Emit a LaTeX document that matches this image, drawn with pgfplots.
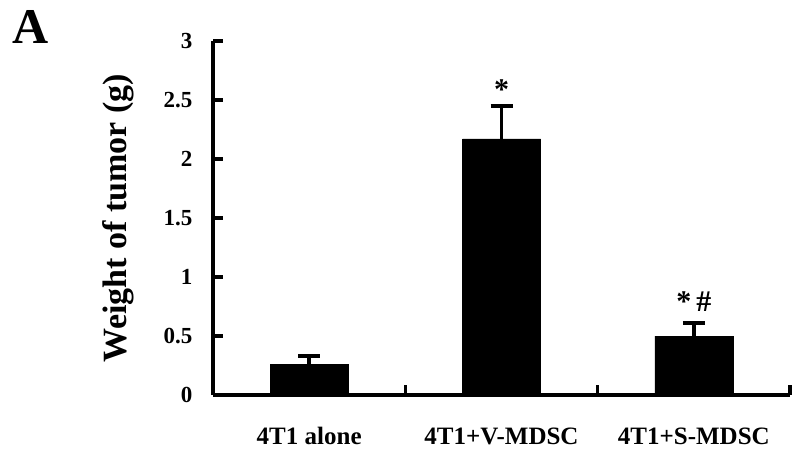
\documentclass[border=0pt]{standalone}
\usepackage{fontspec}
\setmainfont{Liberation Serif}
\usepackage{pgfplots}
\pgfplotsset{compat=1.18}
\begin{document}
\begin{tikzpicture}
\path[use as bounding box] (0pt,0pt) rectangle (800pt,455pt);
\node[font=\fontsize{50}{50}\selectfont\bfseries] at (31pt,428pt) {A};
\begin{axis}[
at={(213pt,60pt)}, anchor=south west,
scale only axis, width=577pt, height=354pt,
xmin=-0.5, xmax=2.5, ymin=0, ymax=3,
axis x line*=bottom, axis y line*=left,
axis line style={line width=3.5pt, black},
clip=false,
xtick={0.5,1.5,2.5}, xticklabels={},
extra x ticks={0,1,2},
extra x tick labels={4T1 alone,4T1+V-MDSC,4T1+S-MDSC},
extra x tick style={major tick length=0pt},
ytick={0,0.5,1,1.5,2,2.5,3},
tick align=inside, major tick length=10pt,
every tick/.style={line width=3.5pt, black},
/pgf/number format/assume math mode=true,
yticklabel style={font=\fontsize{23}{23}\selectfont\bfseries, xshift=-17pt},
xticklabel style={font=\fontsize{25}{25}\selectfont\bfseries, yshift=-29pt},
ylabel={Weight of tumor (g)},
ylabel style={font=\fontsize{34}{34}\selectfont\bfseries, at={(axis description cs:-0.165,0.5)}, anchor=center},
]
\addplot[ybar, bar width=78pt, fill=black, draw=black,
  error bars/.cd, y dir=plus, y explicit,
  error mark=-,
  error bar style={line width=3.5pt, black},
  error mark options={rotate=90, line width=3.5pt, mark size=11pt, black}]
coordinates {(0,0.26) +- (0,0.07) (1,2.17) +- (0,0.28) (2,0.50) +- (0,0.11)};
\node[font=\fontsize{30}{30}\selectfont\bfseries, anchor=base] at (axis cs:1,2.50) {*};
\node[font=\fontsize{30}{30}\selectfont\bfseries, anchor=base] at (axis cs:2,0.71) {*\hspace{5pt}\#};
\end{axis}
\end{tikzpicture}
\end{document}
